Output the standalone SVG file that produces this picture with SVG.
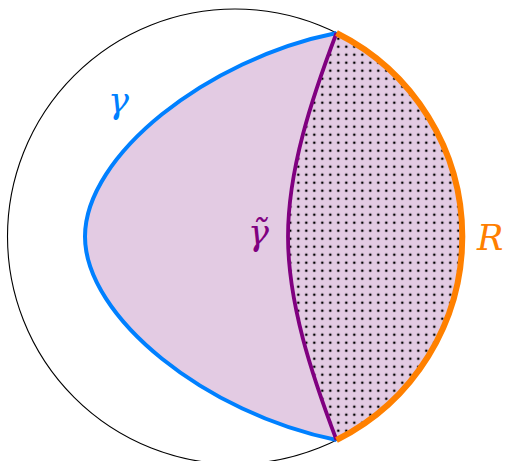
<svg xmlns="http://www.w3.org/2000/svg" width="505" height="461" viewBox="0 0 505 461">
  <style>
    .lbl { font-family: "DejaVu Serif", serif; font-style: italic; font-size: 35px; }
    .big { font-family: "DejaVu Serif", serif; font-style: italic; font-size: 35px; }
  </style>
  <defs>
    <pattern id="dots" patternUnits="userSpaceOnUse" x="6.3" y="2.7" width="8" height="8">
      <circle cx="4" cy="4" r="1.3" fill="#000"/>
    </pattern>
  </defs>
  <rect width="505" height="461" fill="#fff"/>
  <g id="region">
    <path d="M336.5,33 C206.5,59 85,156 85,236.5 C85,317 206.5,414 336.5,440 A227.5,227.5 0 0 0 336.5,33 Z" fill="#e3cbe3"/>
    <path d="M336.5,33 C311.5,99 288,170 288,236.5 C288,303 311.5,374 336.5,440 A227.5,227.5 0 0 0 336.5,33 Z" fill="url(#dots)"/>
  </g>
  <g id="disk">
    <circle cx="235" cy="236.5" r="227.5" fill="none" stroke="#000" stroke-width="1.1"/>
  </g>
  <g id="connectors">
    <path id="gamma" d="M336.5,33 C206.5,59 85,156 85,236.5 C85,317 206.5,414 336.5,440" fill="none" stroke="#0080ff" stroke-width="4"/>
    <path id="gamma-tilde" d="M336.5,33 C311.5,99 288,170 288,236.5 C288,303 311.5,374 336.5,440" fill="none" stroke="#800080" stroke-width="3.8"/>
    <path id="R" d="M336.5,33 A227.5,227.5 0 0 1 336.5,440" fill="none" stroke="#ff8000" stroke-width="6"/>
  </g>
  <g id="labels">
    <text class="lbl" x="108" y="113" fill="#0080ff">γ</text>
    <text class="lbl" x="248" y="245" fill="#800080">γ̃</text>
    <text class="big" x="477" y="250" fill="#ff8000">R</text>
  </g>
</svg>
